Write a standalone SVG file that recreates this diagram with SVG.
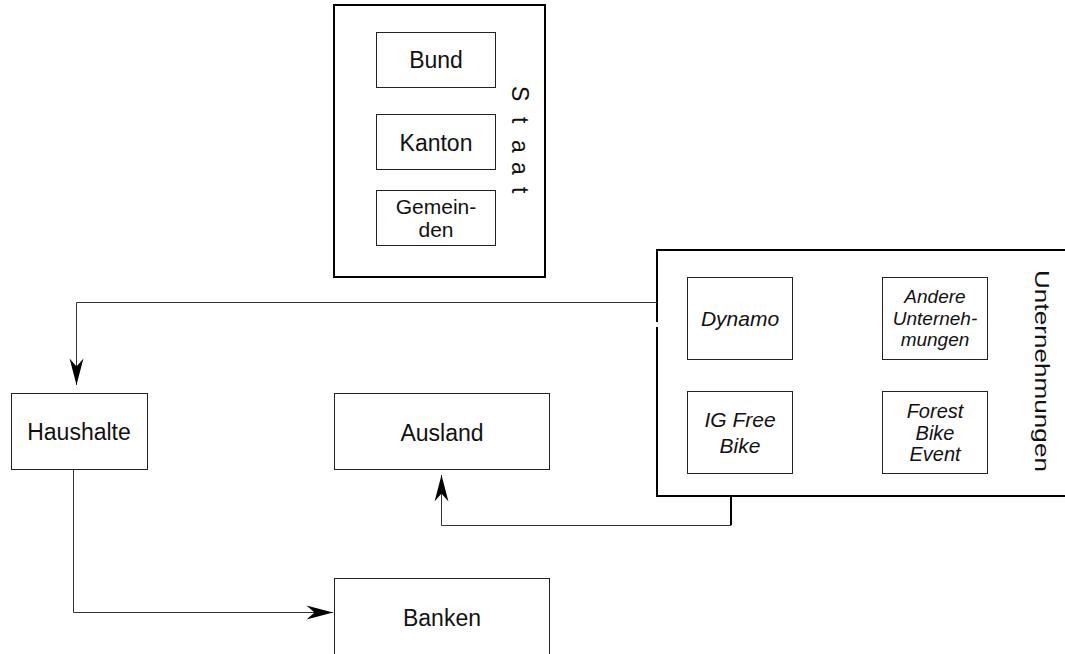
<svg xmlns="http://www.w3.org/2000/svg" width="1065" height="654" viewBox="0 0 1065 654">
<style>
text{font-family:"Liberation Sans",Arial,sans-serif;fill:#111}
.t{font-size:23px;text-anchor:middle}
.i{font-size:21px;font-style:italic;text-anchor:middle}
.s{font-size:19px;font-style:italic;text-anchor:middle}
.box{fill:#fff;stroke:#222;stroke-width:1}
.outer{fill:#fff;stroke:#000;stroke-width:2}
.con{fill:none;stroke:#333;stroke-width:1}
</style>
<defs>
<marker id="arr" markerUnits="userSpaceOnUse" markerWidth="30" markerHeight="20" refX="0" refY="0" viewBox="-24 -8 26 16" orient="auto">
<path d="M0,0 L-23,-6 L-16,0 L-23,6 Z" fill="#000"/>
</marker>
</defs>
<g id="staat">
<rect class="outer" x="334" y="5" width="211" height="272"/>
<text transform="translate(512,86) rotate(90)" style="font-size:23px" x="0 31 54 76 101" y="0">Staat</text>
</g>
<g id="bund"><rect class="box" x="376.5" y="32.5" width="119" height="55"/><text class="t" x="436" y="68">Bund</text></g>
<g id="kanton"><rect class="box" x="376.5" y="114.5" width="119" height="55"/><text class="t" x="436" y="151">Kanton</text></g>
<g id="gemeinden"><rect class="box" x="376.5" y="190.5" width="119" height="55"/><text class="t" style="font-size:21px" x="436" y="214">Gemein-</text><text class="t" style="font-size:21px" x="436" y="237">den</text></g>
<g id="unternehmungen">
<rect class="outer" x="657" y="250" width="420" height="246"/>
<line x1="657" y1="322" x2="657" y2="327" stroke="#fff" stroke-width="3"/>
<text transform="translate(1035,270) rotate(90) scale(1.245,1)" style="font-size:21px" x="0" y="0">Unternehmungen</text>
</g>
<g id="dynamo"><rect class="box" x="687.5" y="277.5" width="105" height="82"/><text class="i" x="740" y="326">Dynamo</text></g>
<g id="andere"><rect class="box" x="882.5" y="277.5" width="105" height="82"/><text class="s" x="935" y="303">Andere</text><text class="s" x="935" y="325">Unterneh-</text><text class="s" x="935" y="346">mungen</text></g>
<g id="igfreebike"><rect class="box" x="687.5" y="391.5" width="105" height="82"/><text class="i" x="740" y="427">IG Free</text><text class="i" x="740" y="453">Bike</text></g>
<g id="forest"><rect class="box" x="882.5" y="391.5" width="105" height="82"/><text class="i" style="font-size:20px" x="935" y="418">Forest</text><text class="i" style="font-size:20px" x="935" y="439.5">Bike</text><text class="i" style="font-size:20px" x="935" y="461">Event</text></g>
<g id="haushalte"><rect class="box" x="11.5" y="393.5" width="136" height="76"/><text class="t" x="79" y="440">Haushalte</text></g>
<g id="ausland"><rect class="box" x="334.5" y="393.5" width="215" height="76"/><text class="t" x="442" y="441">Ausland</text></g>
<g id="banken"><rect class="box" x="334.5" y="578.5" width="215" height="90"/><text class="t" x="442" y="626">Banken</text></g>
<g id="connectors">
<path class="con" d="M657,302.5 H76.5 V385" marker-end="url(#arr)"/>
<path class="con" d="M73.5,469.5 V612.5 H333" marker-end="url(#arr)"/>
<path class="con" d="M731,496 V525.5 H441.5 V475" marker-end="url(#arr)"/>
<line x1="731" y1="496" x2="731" y2="525" stroke="#000" stroke-width="2"/>
</g>
</svg>
